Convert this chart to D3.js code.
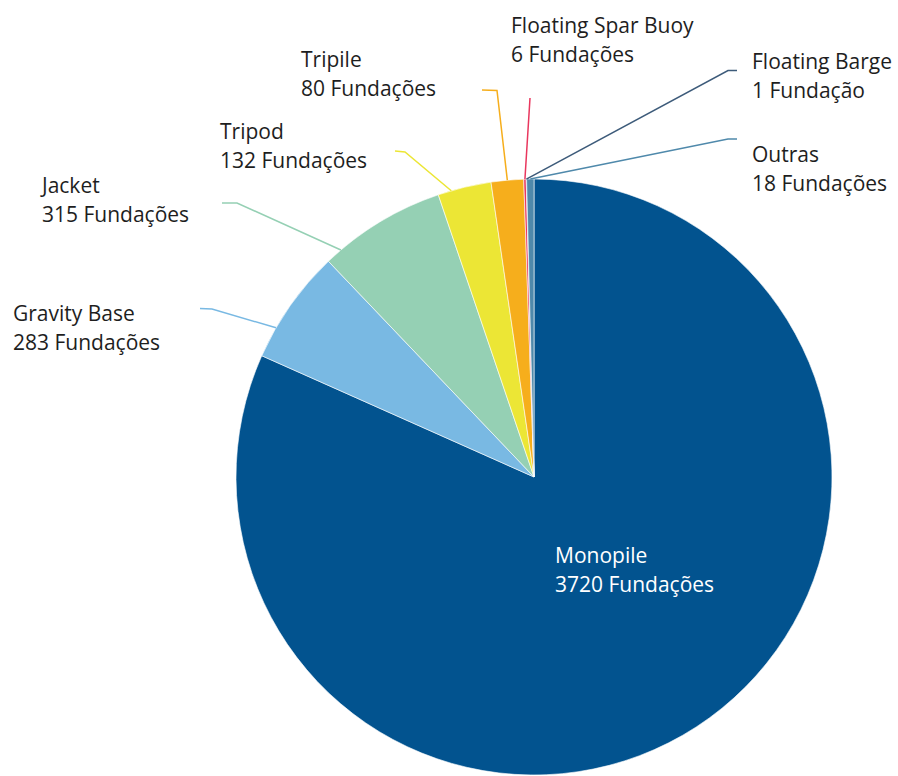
<!DOCTYPE html>
<html>
<head>
<meta charset="utf-8">
<script src="https://cdn.jsdelivr.net/npm/d3@7"></script>
<style>
  html, body { margin: 0; padding: 0; background: #ffffff; }
  svg { display: block; }
  text { font-family: "Open Sans", "Noto Sans", sans-serif; }
</style>
</head>
<body>
<svg id="chart" width="898" height="776"></svg>
<script>
// Offshore wind foundation types, number of foundations
const categories = ["Monopile", "Gravity Base", "Jacket", "Tripod", "Tripile",
                    "Floating Spar Buoy", "Floating Barge", "Outras"];
const counts = [3720, 283, 315, 132, 80, 6, 1, 18];
const unitLabels = ["Fundações", "Fundações", "Fundações", "Fundações", "Fundações",
                    "Fundações", "Fundação", "Fundações"];
const colors = ["#02538f", "#79b9e3", "#95d0b4", "#ece635", "#f6ae1c",
                "#e9375e", "#3d5b7a", "#4f89ab"];

// Label placement: text origin (first baseline), leader elbow, and where on the slice the leader lands
const labelLayout = [
  { tx: 555, ty: 563, fill: "#ffffff", leader: null },
  { tx: 13,  ty: 321, leader: [[200, 308.5], [212, 309]], t: 0.27 },
  { tx: 42,  ty: 193, leader: [[222, 203], [237, 203]], t: 0.13 },
  { tx: 220, ty: 139, leader: [[395, 151], [405, 152]], t: 0.25 },
  { tx: 301, ty: 67,  leader: [[482, 90], [497, 90.5]], t: 0.5 },
  { tx: 511, ty: 33,  leader: [[530, 98]], t: 0.5 },
  { tx: 752, ty: 69,  leader: [[737, 70.5], [728, 70.5]], t: 0.5 },
  { tx: 752, ty: 162, leader: [[737, 139], [728, 139]], t: 0.5 }
];

const data = categories.map((c, i) => ({ name: c, value: counts[i], unit: unitLabels[i], color: colors[i], layout: labelLayout[i] }));

const svg = d3.select("#chart");
const cx = 534, cy = 477, radius = 298;
const lineGap = 28.5;

const pie = d3.pie().sort(null).value(d => d.value).startAngle(0).endAngle(2 * Math.PI);
const arc = d3.arc().innerRadius(0).outerRadius(radius);
const arcs = pie(data);

const g = svg.append("g").attr("transform", `translate(${cx},${cy})`);

g.selectAll("path.slice")
  .data(arcs)
  .enter().append("path")
  .attr("class", "slice")
  .attr("d", arc)
  .attr("fill", d => d.data.color)
  .attr("stroke", "#ffffff")
  .attr("stroke-width", 0.6);

// Leader lines from the label to the slice rim
arcs.forEach(a => {
  const L = a.data.layout;
  if (!L.leader) return;
  const ang = a.startAngle + (a.endAngle - a.startAngle) * L.t;
  const rim = [cx + radius * Math.sin(ang), cy - radius * Math.cos(ang)];
  const pts = L.leader.concat([rim]);
  svg.append("path")
    .attr("d", d3.line()(pts))
    .attr("fill", "none")
    .attr("stroke", a.data.color)
    .attr("stroke-width", 1.5);
});

// Two-line labels: category name and count
arcs.forEach(a => {
  const L = a.data.layout;
  const t = svg.append("text")
    .attr("x", L.tx).attr("y", L.ty)
    .attr("font-size", 21)
    .attr("fill", L.fill || "#1e1e1e");
  t.append("tspan").attr("x", L.tx).attr("y", L.ty).text(a.data.name);
  t.append("tspan").attr("x", L.tx).attr("y", L.ty + lineGap).text(`${a.data.value} ${a.data.unit}`);
});
</script>
</body>
</html>
